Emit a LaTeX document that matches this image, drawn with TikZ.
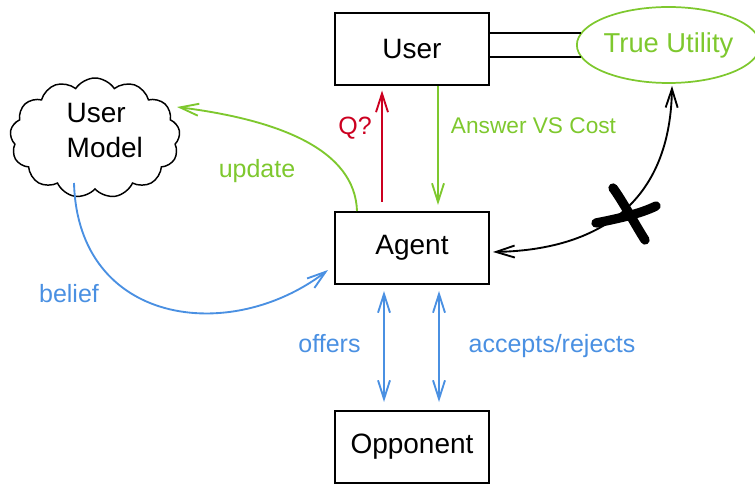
\documentclass[tikz,border=0pt]{standalone}
\usepackage{fontspec}
\setmainfont{Liberation Sans}
\usetikzlibrary{arrows.meta,shapes.geometric,shapes.symbols,calc}
\definecolor{cgreen}{RGB}{126,200,46}
\definecolor{cred}{RGB}{204,0,32}
\definecolor{cblue}{RGB}{74,144,226}
\begin{document}
\begin{tikzpicture}[x=0.75pt,y=-0.75pt,
  box/.style={draw,line width=1.5pt,minimum width=115.5pt,minimum height=54pt,inner sep=0pt,font=\fontsize{21}{25}\selectfont},
  lbl/.style={anchor=base,font=\fontsize{18.75}{22}\selectfont},
  conn/.style={line width=1.4pt,-{Straight Barb[length=14pt,width=9pt]}},
  dconn/.style={line width=1.4pt,{Straight Barb[length=14pt,width=9pt]}-{Straight Barb[length=14pt,width=9pt]}},
  xmark/.style={line width=7pt,line cap=round},
]
\useasboundingbox (0,0) rectangle (755,484);
% boxes
\node[box] (user) at (412,49.5) {User};
\node[box] (agent) at (412,248) {Agent};
\node[box] (opp) at (412,447) {Opponent};
\node[ellipse,draw=cgreen,line width=1.3pt,minimum width=132.75pt,minimum height=57pt,inner sep=0pt,text=cgreen,font=\fontsize{20.5}{24}\selectfont] (tu) at (668.5,45) {True Utility};
\node[cloud,draw,cloud puffs=13,cloud puff arc=115,aspect=1.4,minimum width=127.5pt,minimum height=90pt,line width=1.1pt] (um) at (95,138) {};
\node[anchor=base west,font=\fontsize{21}{25}\selectfont] (umtop) at (62,123) {User};
\node[anchor=base west,font=\fontsize{21}{25}\selectfont] (umbot) at (62,158) {Model};
% coordinates
\coordinate (umU) at (177,107);
\coordinate (umB) at (74,183);
\coordinate (agL) at (328,270);
% double line user - true utility
\draw[line width=1.3pt] (tu.172 -| user.east) -- (tu.172);
\draw[line width=1.3pt] (tu.188 -| user.east) -- (tu.188);
% Q? and answer
\draw[conn,cred] ($(agent.north)+(-30,-9)$) -- ($(user.south)+(-30,4)$);
\draw[conn,cgreen] ($(user.south)+(26,0)$) -- ($(agent.north)+(26,-6)$);
% offers / accepts
\draw[dconn,cblue] ($(agent.south)+(-28,6)$) -- ($(opp.north)+(-28,-8)$);
\draw[dconn,cblue] ($(agent.south)+(27,6)$) -- ($(opp.north)+(27,-8)$);
% update
\draw[conn,cgreen] ($(agent.north)+(-55,0)$) .. controls (355,150) and (280,120) .. (umU);
% belief
\draw[conn,cblue] (umB) .. controls (78,325) and (230,345) .. (agL);
% true utility - agent
\draw[dconn] ($(tu.south)+(3.5,2)$) .. controls (670,210) and (590,250) .. ($(agent.east)+(3,4)$);
% cross
\draw[xmark] (613,188) .. controls (622,200) and (636,226) .. (645,240);
\draw[xmark] (596,223) .. controls (616,219) and (640,214) .. (656,206);
% labels
\node[lbl,cred] (q) at (355,135) {Q?};
\node[lbl,cgreen,font=\fontsize{17}{20}\selectfont] (ans) at (533.5,134) {Answer VS Cost};
\node[lbl,cgreen] (upd) at (257,178) {update};
\node[lbl,cblue] (bel) at (69,302) {belief};
\node[lbl,cblue] (off) at (329.5,352) {offers};
\node[lbl,cblue] (acc) at (552,352) {accepts/rejects};
\end{tikzpicture}
\end{document}
